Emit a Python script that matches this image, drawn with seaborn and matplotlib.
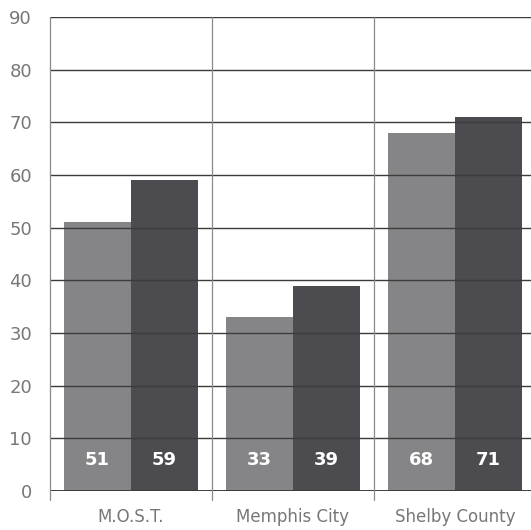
import pandas as pd
import matplotlib
matplotlib.use("Agg")
import matplotlib.pyplot as plt
import seaborn as sns

# data
categories = ["M.O.S.T.", "Memphis City", "Shelby County"]
series_names = ["Series 1", "Series 2"]
values_1 = [51, 33, 68]
values_2 = [59, 39, 71]
y_ticks = [0, 10, 20, 30, 40, 50, 60, 70, 80, 90]

df = pd.DataFrame({
    "category": categories * 2,
    "series": [series_names[0]] * 3 + [series_names[1]] * 3,
    "value": values_1 + values_2,
})

sns.set_style("white")

fig = plt.figure(figsize=(5.31, 5.30), dpi=100)
ax = fig.add_axes([50 / 531, 1 - 491 / 530, 486 / 531, 474 / 530])

palette = {series_names[0]: "#858587", series_names[1]: "#4b4b50"}
sns.barplot(data=df, x="category", y="value", hue="series", order=categories,
            hue_order=series_names, palette=palette, width=0.83,
            saturation=1, legend=False, ax=ax, linewidth=0)

# white value labels near the bottom of each bar
for cont in ax.containers:
    for bar, v in zip(cont, cont.datavalues):
        ax.text(bar.get_x() + bar.get_width() / 2, 5.9, f"{int(v)}",
                ha="center", va="center", color="white", fontsize=13,
                fontweight="bold", zorder=5)

ax.set_xlim(-0.5, 2.5)
ax.set_ylim(0, 90)
ax.set_yticks(y_ticks)
ax.set_xlabel("")
ax.set_ylabel("")

# horizontal grid over the bars
for t in y_ticks:
    ax.axhline(t, color="#3c3c3c", linewidth=1.0 if t else 1.4, zorder=4)
# category separators, running a little below the zero line
for xb in [-0.5, 0.5, 1.5]:
    ax.axvline(xb, ymin=-0.018, ymax=1, color="#8a8a8a", linewidth=0.9,
               zorder=4, clip_on=False)

for s in ["top", "right", "bottom", "left"]:
    ax.spines[s].set_visible(False)

ax.tick_params(axis="y", direction="out", length=9, width=1.0,
               color="#3c3c3c", labelcolor="#777777", labelsize=13, pad=4)
ax.tick_params(axis="x", which="major", length=0, labelcolor="#777777",
               labelsize=12, pad=12)

fig.savefig("out.png", dpi=100)
